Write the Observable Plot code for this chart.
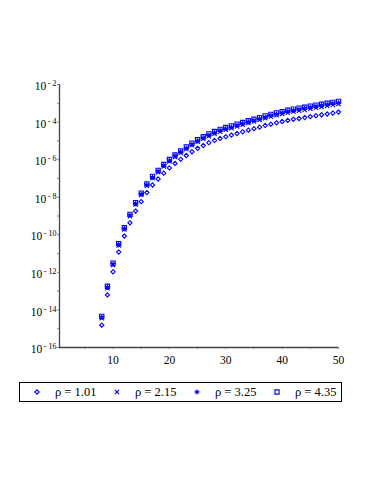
<!DOCTYPE html>
<html><head><meta charset="utf-8">
<script src="https://cdn.jsdelivr.net/npm/d3@7"></script>
<script src="https://cdn.jsdelivr.net/npm/@observablehq/plot@0.6"></script>
<style>
body{margin:0;background:#fff;font-family:"Liberation Serif","Times New Roman","DejaVu Serif",serif;}
#chart{position:absolute;left:0;top:0;}
#chart svg, #chart svg text{font-family:"Liberation Serif","Times New Roman","DejaVu Serif",serif !important;}
#legend{position:absolute;left:19px;top:382px;width:321px;height:18px;border:1px solid #000;box-sizing:content-box;font-size:12.5px;color:#000;}
#legend .item{position:absolute;top:0;height:18px;line-height:18px;white-space:nowrap;}
#legend svg{position:absolute;top:4px;}
</style></head><body>
<div id="chart"></div>
<div id="legend"></div>
<script>
// x values (integer abscissa)
const xValues = [8,9,10,11,12,13,14,15,16,17,18,19,20,21,22,23,24,25,26,27,28,29,30,31,32,33,34,35,36,37,38,39,40,41,42,43,44,45,46,47,48,49,50];
const rhoLabels = ["ρ = 1.01","ρ = 2.15","ρ = 3.25","ρ = 4.35"];
// log10 of the values
const log10Rho101 = [-14.81,-13.20,-11.97,-10.92,-10.07,-9.36,-8.74,-8.24,-7.75,-7.35,-7.03,-6.72,-6.44,-6.20,-5.98,-5.78,-5.58,-5.40,-5.25,-5.10,-4.98,-4.87,-4.78,-4.69,-4.61,-4.52,-4.43,-4.35,-4.27,-4.18,-4.11,-4.04,-3.97,-3.91,-3.85,-3.81,-3.76,-3.71,-3.66,-3.61,-3.57,-3.52,-3.47];
const log10Rho215 = [-14.44,-12.84,-11.61,-10.57,-9.72,-9.01,-8.39,-7.88,-7.39,-6.99,-6.67,-6.36,-6.09,-5.86,-5.64,-5.43,-5.23,-5.05,-4.89,-4.75,-4.62,-4.51,-4.41,-4.32,-4.23,-4.14,-4.05,-3.97,-3.89,-3.80,-3.72,-3.64,-3.57,-3.50,-3.44,-3.40,-3.35,-3.29,-3.24,-3.19,-3.14,-3.09,-3.04];
const log10Rho325 = [-14.39,-12.79,-11.56,-10.52,-9.67,-8.96,-8.34,-7.83,-7.34,-6.94,-6.62,-6.31,-6.04,-5.80,-5.58,-5.38,-5.18,-5.00,-4.84,-4.69,-4.56,-4.45,-4.35,-4.26,-4.17,-4.08,-3.99,-3.91,-3.82,-3.73,-3.65,-3.57,-3.50,-3.43,-3.37,-3.32,-3.27,-3.21,-3.16,-3.11,-3.06,-3.01,-2.97];
const log10Rho435 = [-14.34,-12.74,-11.51,-10.47,-9.62,-8.91,-8.29,-7.78,-7.29,-6.89,-6.57,-6.26,-5.99,-5.75,-5.53,-5.32,-5.12,-4.94,-4.78,-4.63,-4.50,-4.39,-4.29,-4.20,-4.11,-4.02,-3.93,-3.85,-3.76,-3.67,-3.59,-3.51,-3.44,-3.37,-3.31,-3.26,-3.21,-3.15,-3.10,-3.05,-3.00,-2.95,-2.90];
const xMajorTicks = [10,20,30,40,50];
const xMinorTicks = [5,10,15,20,25,30,35,40,45,50];
const yMajorExponents = [-16,-14,-12,-10,-8,-6,-4,-2];
const yMinorExponents = [-16,-15,-14,-13,-12,-11,-10,-9,-8,-7,-6,-5,-4,-3,-2];

const seriesList = [log10Rho101, log10Rho215, log10Rho325, log10Rho435];
const symbolNames = ["diamond2","times","asterisk","square2"];
const symbolSizes = [1.9, 2.1, 2.4, 2.7];
const blue = "#0000ff";
const serif = '"Liberation Serif","Times New Roman","DejaVu Serif",serif';

const data = [];
seriesList.forEach((s, i) => s.forEach((e, j) => data.push({x: xValues[j], y: Math.pow(10, e), rho: rhoLabels[i], r: symbolSizes[i]})));

const chart = Plot.plot({
  width: 371, height: 372,
  marginLeft: 59, marginRight: 33, marginTop: 84, marginBottom: 25,
  style: {fontFamily: serif, fontSize: "11px", color: "#000", background: "#fff"},
  x: {domain: [0.5, 50], label: null},
  y: {type: "log", domain: [1e-16, 1e-2], label: null},
  symbol: {domain: rhoLabels, range: symbolNames},
  r: {type: "identity"},
  marks: [
    Plot.axisX({ticks: xMinorTicks, tickSize: 2, tickFormat: () => "", stroke: "#888", label: null}),
    Plot.axisX({ticks: xMajorTicks, tickSize: 0, tickPadding: 8, tickFormat: d => String(d), fill: "#000", label: null, fontSize: 11.5}),
    Plot.axisY({ticks: yMinorExponents.map(e => Math.pow(10, e)), tickSize: 2, tickFormat: () => "", stroke: "#888", label: null}),
    Plot.axisY({ticks: yMajorExponents.map(e => Math.pow(10, e)), tickSize: 0, tickPadding: 3, dy: 2, label: null, fontSize: 11.5,
      tickFormat: d => "10^" + Math.round(Math.log10(d)), fill: "#000"}),
    Plot.ruleX([0.5], {stroke: "#444", strokeWidth: 1.3}),
    Plot.ruleY([1e-16], {stroke: "#444", strokeWidth: 1.3}),
    Plot.dot(data, {x: "x", y: "y", symbol: "rho", r: "r", stroke: blue, strokeWidth: 1.1})
  ]
});

// superscript exponents on y tick labels
d3.select(chart).selectAll("text").each(function() {
  const t = this.textContent;
  if (t.startsWith("10^")) {
    const exp = t.slice(3);
    const sel = d3.select(this);
    sel.text("10");
    sel.append("tspan").attr("dy", "-4").attr("dx", "1.5").attr("font-size", "8").text("- " + exp.replace("-", ""));
  }
});
d3.select(chart).style("font-family", serif);
d3.select(chart).selectAll("g").attr("font-family", serif);
document.getElementById("chart").appendChild(chart);

// legend
const legend = d3.select("#legend");
const symbolFns = [d3.symbolDiamond2, d3.symbolTimes, d3.symbolAsterisk, d3.symbolSquare2];
const symbolX = [17, 97, 177, 257];
const textX = [35, 115, 195, 275];
rhoLabels.forEach((lab, i) => {
  const r = symbolSizes[i];
  const svg = legend.append("svg").attr("width", 10).attr("height", 10)
    .style("left", (symbolX[i] - 5) + "px");
  svg.append("path").attr("transform", "translate(5,5)")
    .attr("d", d3.symbol(symbolFns[i], r * r * Math.PI)())
    .attr("fill", "none").attr("stroke", blue).attr("stroke-width", 1.1);
  legend.append("div").attr("class", "item").style("left", textX[i] + "px").text(lab);
});
</script>
</body></html>
